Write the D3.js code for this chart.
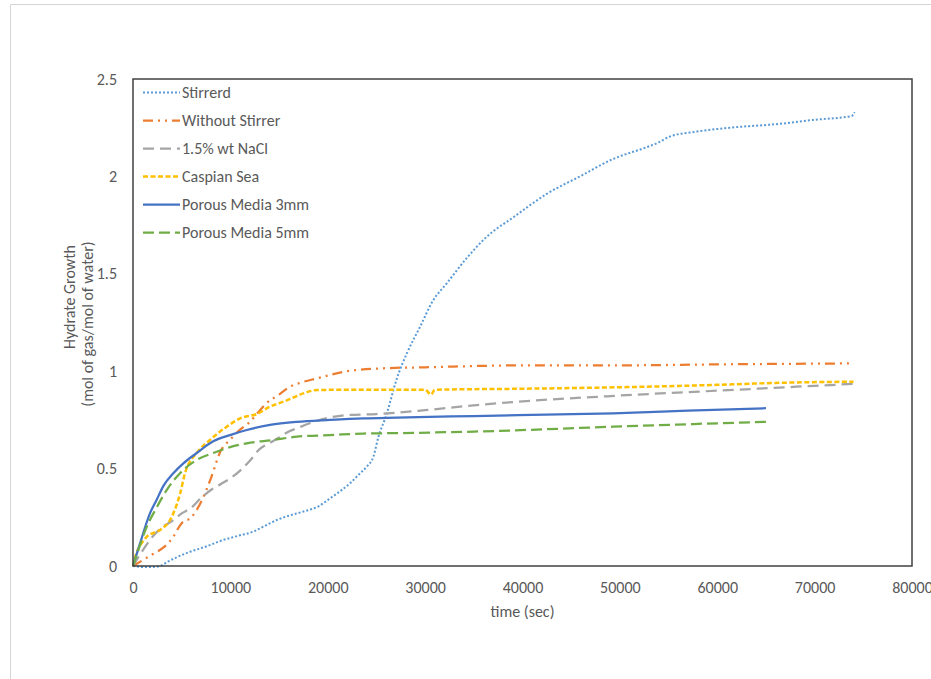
<!DOCTYPE html>
<html>
<head>
<meta charset="utf-8">
<script src="https://cdn.jsdelivr.net/npm/d3@7"></script>
<style>
body { margin: 0; background: #fff; }
svg text { font-family: Calibri, Carlito, "Liberation Sans", Arial, sans-serif; fill: #595959; }
</style>
</head>
<body>
<svg id="chart" width="931" height="679"></svg>
<script>
// 讀圖估計的數據 [time (sec), hydrate growth]
const stirred = [[0,0],[1000,-0.005],[2000,-0.005],[2800,0],[3500,0.02],[4500,0.045],[5850,0.073],[7500,0.1],
  [9240,0.133],[10800,0.155],[12320,0.176],[13500,0.205],[14760,0.236],[16000,0.258],[17460,0.279],[19000,0.305],
  [20230,0.347],[21300,0.385],[22290,0.425],[23200,0.47],[24000,0.51],[24680,0.56],[25190,0.66],[26050,0.78],
  [27080,0.96],[28200,1.1],[29470,1.227],[30840,1.365],[32200,1.45],[34260,1.58],[36320,1.69],[39060,1.79],
  [42480,1.91],[45900,2.0],[49330,2.09],[52750,2.15],[54000,2.175],[55150,2.205],[57890,2.23],[61310,2.25],
  [66450,2.27],[69870,2.29],[73800,2.31],[74100,2.33]];
const withoutStirrer = [[0,0],[1000,0.03],[2000,0.06],[3000,0.09],[4000,0.14],[5000,0.22],[6000,0.25],[7000,0.33],
  [8000,0.45],[9000,0.59],[10000,0.65],[11000,0.7],[12000,0.74],[12700,0.78],[13700,0.835],[15000,0.88],
  [16100,0.92],[17150,0.94],[18860,0.963],[22000,1.0],[25700,1.015],[30000,1.02],[40000,1.03],[50000,1.03],
  [60000,1.035],[74000,1.04]];
const nacl = [[0,0],[1000,0.08],[2000,0.15],[3000,0.2],[4000,0.23],[5000,0.27],[6000,0.3],[7000,0.35],[8000,0.39],
  [9000,0.42],[10000,0.45],[11000,0.49],[12000,0.54],[13000,0.6],[14000,0.63],[15000,0.66],[16000,0.69],
  [17000,0.71],[18000,0.73],[20000,0.76],[22000,0.775],[25000,0.78],[30000,0.8],[35000,0.825],[40000,0.845],
  [50000,0.875],[60000,0.9],[70000,0.925],[74000,0.935]];
const caspian = [[0,0],[300,0.06],[800,0.11],[1400,0.15],[2770,0.185],[3800,0.236],[4140,0.27],[4830,0.37],
  [5340,0.476],[6540,0.58],[7910,0.647],[9620,0.715],[11000,0.758],[12700,0.78],[14070,0.818],[15790,0.85],
  [17490,0.886],[18860,0.903],[22000,0.905],[26000,0.905],[30000,0.905],[30600,0.88],[31000,0.905],[40000,0.91],
  [49330,0.917],[60000,0.93],[66000,0.94],[74000,0.946]];
const porous3 = [[0,0],[720,0.116],[1740,0.27],[2430,0.34],[3110,0.41],[4140,0.476],[5170,0.527],[6540,0.58],
  [8240,0.64],[9960,0.672],[11680,0.698],[14070,0.724],[16810,0.74],[20230,0.75],[23650,0.758],[27080,0.762],
  [35000,0.77],[49330,0.784],[57000,0.797],[65000,0.81]];
const porous5 = [[0,0],[400,0.06],[1400,0.2],[2430,0.3],[3460,0.39],[4830,0.476],[6540,0.544],[8240,0.58],
  [9960,0.61],[11680,0.63],[14410,0.647],[16810,0.664],[20230,0.672],[23650,0.68],[27000,0.682],[35000,0.69],
  [49330,0.715],[57000,0.728],[65000,0.74]];

const seriesNames = ["Stirrerd", "Without Stirrer", "1.5% wt NaCl", "Caspian Sea", "Porous Media 3mm", "Porous Media 5mm"];
const seriesData = [stirred, withoutStirrer, nacl, caspian, porous3, porous5];
const xTicks = [0, 10000, 20000, 30000, 40000, 50000, 60000, 70000, 80000];
const yTicks = [0, 0.5, 1, 1.5, 2, 2.5];

// 線條樣式
const styles = [
  {color: "#5B9BD5", width: 2, dash: "2,2"},
  {color: "#ED7D31", width: 2.25, dash: "10,5,2,5,2,5"},
  {color: "#A5A5A5", width: 2.25, dash: "11,6"},
  {color: "#FFC000", width: 2.5, dash: "5,2.5"},
  {color: "#4472C4", width: 2.25, dash: null},
  {color: "#70AD47", width: 2.25, dash: "11,5"}
];

const svg = d3.select("#chart");

// 外框 (淡灰)
svg.append("path")
  .attr("d", "M10.5,679 L10.5,4.5 L931,4.5")
  .attr("fill", "none")
  .attr("stroke", "#d4d4d4")
  .attr("stroke-width", 1);

const margin = {top: 79, right: 19, bottom: 113, left: 133};
const width = 931 - margin.left - margin.right;
const height = 679 - margin.top - margin.bottom;

const g = svg.append("g").attr("transform", `translate(${margin.left},${margin.top})`);

const x = d3.scaleLinear().domain([0, 80000]).range([0, width]);
const y = d3.scaleLinear().domain([0, 2.5]).range([height, 0]);

// 軸 (無刻度線)
const xAxis = g.append("g")
  .attr("transform", `translate(0,${height})`)
  .call(d3.axisBottom(x).tickValues(xTicks).tickSize(0).tickPadding(16).tickFormat(d3.format("d")));
const yAxis = g.append("g")
  .call(d3.axisLeft(y).tickValues(yTicks).tickSize(0).tickPadding(16).tickFormat(d => String(d)));
[xAxis, yAxis].forEach(a => {
  a.select(".domain").remove();
  a.selectAll("text").style("font-size", "16px").attr("fill", "#595959");
});

// 畫線
const line = d3.line()
  .x(d => x(d[0]))
  .y(d => y(d[1]))
  .curve(d3.curveMonotoneX);

seriesData.forEach((data, i) => {
  const s = styles[i];
  g.append("path")
    .datum(data)
    .attr("fill", "none")
    .attr("stroke", s.color)
    .attr("stroke-width", s.width)
    .attr("stroke-dasharray", s.dash)
    .attr("d", line);
});

// 繪圖區邊框
g.append("rect")
  .attr("width", width)
  .attr("height", height)
  .attr("fill", "none")
  .attr("stroke", "#404040")
  .attr("stroke-width", 1.5);

// 圖例
const legend = g.append("g")
  .selectAll("g")
  .data(seriesNames)
  .enter().append("g")
  .attr("transform", (d, i) => `translate(0,${13.5 + i * 28})`);

legend.append("line")
  .attr("x1", 10).attr("x2", 47)
  .attr("y1", 0).attr("y2", 0)
  .attr("stroke", (d, i) => styles[i].color)
  .attr("stroke-width", (d, i) => styles[i].width)
  .attr("stroke-dasharray", (d, i) => styles[i].dash);

legend.append("text")
  .attr("x", 49)
  .attr("dy", "0.35em")
  .style("font-size", "16px")
  .text(d => d);

// 座標軸標題
svg.append("text")
  .attr("x", margin.left + width / 2)
  .attr("y", 617)
  .attr("text-anchor", "middle")
  .style("font-size", "16px")
  .text("time (sec)");

svg.append("text")
  .attr("transform", "translate(75,297) rotate(-90)")
  .attr("text-anchor", "middle")
  .style("font-size", "16px")
  .text("Hydrate Growth");

svg.append("text")
  .attr("transform", "translate(93,324) rotate(-90)")
  .attr("text-anchor", "middle")
  .style("font-size", "16px")
  .text("(mol of gas/mol of water)");
</script>
</body>
</html>
